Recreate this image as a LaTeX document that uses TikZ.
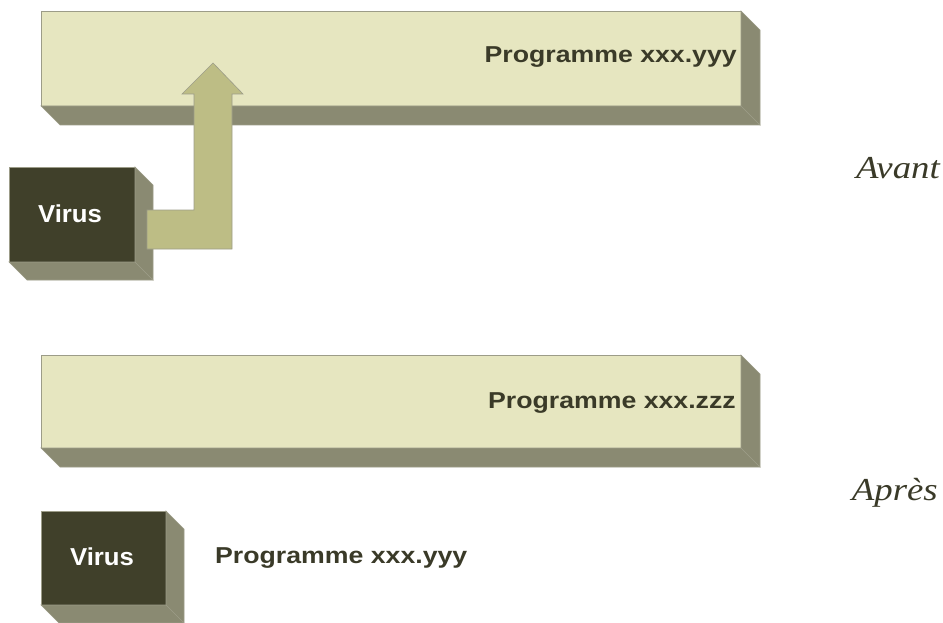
\documentclass[tikz,border=0pt]{standalone}
\usepackage{fontspec}
\setmainfont{Liberation Sans}
\newfontfamily\progfont[FakeStretch=1.16]{Liberation Sans}
\newfontfamily\virfont[FakeStretch=1.05]{Liberation Sans}
\newfontfamily\serifit[FakeStretch=1.15]{Liberation Serif}
\definecolor{barfront}{HTML}{E6E6C0}
\definecolor{depthc}{HTML}{8A8A72}
\definecolor{virusc}{HTML}{40402A}
\definecolor{arrowc}{HTML}{BDBD85}
\definecolor{edgec}{HTML}{9C9C88}
\definecolor{textc}{HTML}{3A3A28}
\newcommand\mycuboid[6]{%
  \fill[#6,draw=edgec,line width=0.6pt] (#1,#2) rectangle (#3,#4);
  \fill[depthc,draw=edgec,line width=0.6pt] (#1,#4) -- (#3,#4) -- ({#3+#5},{#4+#5}) -- ({#1+#5},{#4+#5}) -- cycle;
  \fill[depthc,draw=edgec,line width=0.6pt] (#3,#2) -- ({#3+#5},{#2+#5}) -- ({#3+#5},{#4+#5}) -- (#3,#4) -- cycle;
}
\tikzset{
  lbl/.style={font=\progfont\fontsize{23}{27}\selectfont\bfseries, text=textc, inner sep=0pt},
  vlbl/.style={font=\virfont\fontsize{24.5}{28}\selectfont\bfseries, text=white, inner sep=0pt},
  side/.style={font=\serifit\fontsize{32}{36}\selectfont\itshape, text=textc, inner sep=0pt}
}
\begin{document}
\begin{tikzpicture}[x=1pt,y=-1pt]
\useasboundingbox (0,0) rectangle (943,623);
% top bar
\mycuboid{41}{11}{741}{106}{19}{barfront}
\node[lbl, anchor=east] (p1) at (737,57) {Programme xxx.yyy};
% top virus
\mycuboid{9}{167}{135}{262}{18}{virusc}
\node[vlbl] (v1) at (70,214) {Virus};
% arrow
\fill[arrowc,draw=edgec,line width=0.6pt] (147,210) -- (194,210) -- (194,94) -- (182,94) -- (213,63) -- (243,94) -- (232,94) -- (232,249) -- (147,249) -- cycle;
% bottom bar
\mycuboid{41}{355}{741}{448}{19}{barfront}
\node[lbl, anchor=east] (p2) at (736,403) {Programme xxx.zzz};
% bottom virus
\mycuboid{41}{511}{166}{605}{18}{virusc}
\node[vlbl] (v2) at (102,557) {Virus};
\node[lbl, anchor=west] (p3) at (215,558) {Programme xxx.yyy};
% side labels
\node[side, anchor=east] (av) at (940,168) {Avant};
\node[side, anchor=east] (ap) at (938,493) {Après};
\end{tikzpicture}
\end{document}
